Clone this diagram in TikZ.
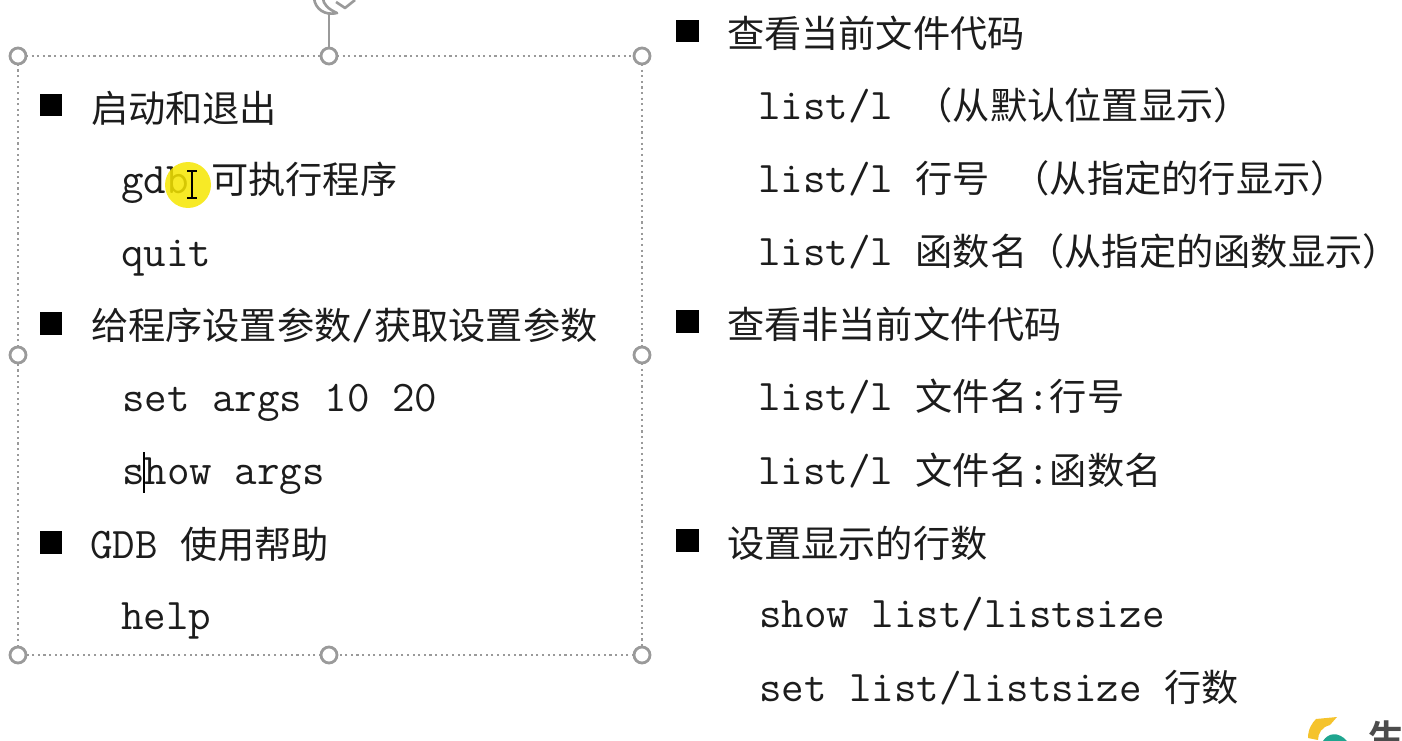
\documentclass[tikz,border=0pt]{standalone}
\usepackage{fontspec}
\newfontfamily\zhfont[Scale=0.851]{Noto Sans CJK SC}
\newfontfamily\zhbold{Noto Sans CJK SC Bold}
\newcommand{\zh}[1]{{\zhfont #1}}
\usetikzlibrary{arrows.meta,positioning,calc}
\definecolor{inkgray}{HTML}{1C1C1C}
\definecolor{handlegray}{HTML}{9A9A9A}
\definecolor{markyellow}{HTML}{F6E600}
\definecolor{logoyellow}{HTML}{F5C32C}
\definecolor{logoteal}{HTML}{1FA58F}

\begin{document}
\begin{tikzpicture}[x=0.02cm, y=-0.02cm,
        every node/.style={inner sep=0pt, outer sep=0pt},
        txt/.style={anchor=base west, font=\ttfamily\fontsize{24.9}{28}\selectfont, text=inkgray},
        bullet/.style={anchor=center, fill=black, minimum size=0.46cm},
        handle/.style={circle, draw=handlegray, line width=1.6pt, fill=white, minimum size=0.32cm},
        frame/.style={draw=handlegray, line width=1.2pt, dotted}]
        \useasboundingbox (0,0) rectangle (1402,740);
        % selection handles
        \node[handle] (tl) at (18,56) {};
        \node[handle] (tm) at (329,56) {};
        \node[handle] (tr) at (642,56) {};
        \node[handle] (ml) at (18,355) {};
        \node[handle] (mr) at (642,355) {};
        \node[handle] (bl) at (18,655) {};
        \node[handle] (bm) at (329,655) {};
        \node[handle] (br) at (642,655) {};
        \coordinate (rot) at (329,15);
        \draw[frame] (tl) -- (tm);
        \draw[frame] (tm) -- (tr);
        \draw[frame] (tr) -- (mr);
        \draw[frame] (mr) -- (br);
        \draw[frame] (br) -- (bm);
        \draw[frame] (bm) -- (bl);
        \draw[frame] (bl) -- (ml);
        \draw[frame] (ml) -- (tl);
        \draw[handlegray, line width=1.3pt] (tm) -- (rot);
        \begin{scope}
          \clip (0,0) rectangle (1402,740);
          % rotate icon, cut by the top edge
          \draw[handlegray, line width=1.5pt, line join=round] (314,-2) .. controls (315,9) and (325,16) .. (337,13) .. controls (328,9) and (323,4) .. (323,-2);
          \draw[handlegray, line width=1.5pt, line join=round] (336,2) -- (345,8) -- (355,0);
        \end{scope}
        % left column
        \node[bullet] (b1) at (51,105) {};
        \node[txt] (t1) at (91,122) {\zh{启动和退出}};
        \node[txt] (t1a) at (121,193) {gdb \zh{可执行程序}};
        \node[txt] (t1b) at (121,266) {quit};
        \node[bullet] (b2) at (51,323) {};
        \node[txt] (t2) at (91,339) {\zh{给程序设置参数}/\zh{获取设置参数}};
        \node[txt] (t2a) at (122,411) {set args 10 20};
        \node[txt] (t2b) at (122,484) {show args};
        \node[bullet] (b3) at (51,542) {};
        \node[txt] (t3) at (90,558) {GDB \zh{使用帮助}};
        \node[txt] (t3a) at (121,629) {help};
        % right column
        \node[bullet] (b4) at (687,31) {};
        \node[txt] (t4) at (727,48) {\zh{查看当前文件代码}};
        \node[txt] (t4a) at (758,119) {list/l \zh{（从默认位置显示）}};
        \node[txt] (t4b) at (758,192) {list/l \zh{行号} \zh{（从指定的行显示）}};
        \node[txt] (t4c) at (758,265) {list/l \zh{函数名（从指定的函数显示）}};
        \node[bullet] (b5) at (687,321) {};
        \node[txt] (t5) at (727,338) {\zh{查看非当前文件代码}};
        \node[txt] (t5a) at (758,410) {list/l \zh{文件名}:\zh{行号}};
        \node[txt] (t5b) at (758,484) {list/l \zh{文件名}:\zh{函数名}};
        \node[bullet] (b6) at (687,540) {};
        \node[txt] (t6) at (727,557) {\zh{设置显示的行数}};
        \node[txt] (t6a) at (759,627) {show list/listsize};
        \node[txt] (t6b) at (759,701) {set list/listsize \zh{行数}};
        % pointer mark and carets
        \fill[markyellow, opacity=0.85] (188,185) circle[radius=0.46cm];
        \draw[black, line width=1pt] (192,171) -- (192,198) (187,171) -- (197,171) (187,198) -- (197,198);
        \draw[black, line width=1pt] (144,452) -- (144,493);
        % logo in the corner
        \begin{scope}
          \clip (0,0) rectangle (1402,740);
          \fill[logoyellow] (1308,738) .. controls (1308,729) and (1312,723) .. (1316,719) -- (1337,717) -- (1330,725) .. controls (1322,727) and (1318,733) .. (1318,740) -- cycle;
          \fill[logoteal] (1323,741) .. controls (1328,733) and (1338,731) .. (1347,741) -- cycle;
          \node[anchor=base west, font=\zhbold\fontsize{20.6}{24}\selectfont, text=black!70] (logo) at (1368,751) {生};
        \end{scope}
      \end{tikzpicture}
\end{document}
